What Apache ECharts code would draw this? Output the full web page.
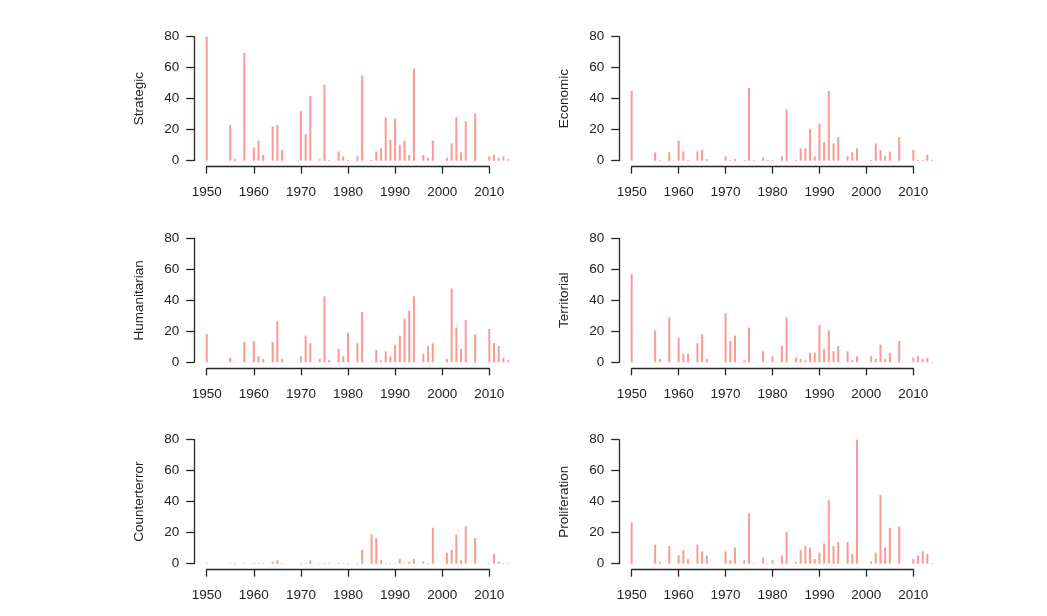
<!DOCTYPE html>
<html>
<head>
<meta charset="utf-8">
<script src="https://cdn.jsdelivr.net/npm/echarts@6/dist/echarts.min.js"></script>
<style>
  html, body { margin: 0; padding: 0; background: #ffffff; }
  #chart { width: 1047px; height: 616px; }
</style>
</head>
<body>
<div id="chart"></div>
<script>
// ---- data ----
const years = [1950,1955,1956,1958,1960,1961,1962,1964,1965,1966,1970,1971,1972,1974,1975,1976,1978,1979,1980,1982,1983,1985,1986,1987,1988,1989,1990,1991,1992,1993,1994,1996,1997,1998,2001,2002,2003,2004,2005,2007,2010,2011,2012,2013,2014];
const panelNames = ["Strategic","Economic","Humanitarian","Territorial","Counterterror","Proliferation"];
const strategic = [80,23,1,69.5,8.6,13,3.7,22,23,7, 32,17,41.7,1,49,0.5,6,2.8,0.5,2.8, 55,0.5,6,8,28,13.5,27.3,10.3,13,3.7, 59.4,3.7,2,13,2,11.2,28,5.4,25.4,30.5, 2.8,3.7,2,2.8,1];
const economic = [45,5.4,0.5,5.4,12.9,6,0.5,6,7,1, 2.8,0.5,1,0.5,46.9,0.5,2,0.5,0.5,2.8, 33,0.5,8,8,20.4,2.8,23.9,12,45,11.2, 15.3,2.8,5.4,8,0.5,11.2,7,2.8,6,15.3, 7,0.5,0.5,3.7,0.5];
const humanitarian = [18.3,3,0.4,13.1,13.8,3.9,2.2,13.1,26.5,2.2, 3.9,17.2,12.3,2.2,42.6,1.3,8.8,3.9,18.9,12.3, 32.5,0.4,8,1.3,7.1,3.9,11.4,17.2,28.2,33.3, 42.6,5.4,10.5,12.3,2.2,47.5,22.4,8.8,27.3,18.1, 21.5,12.3,10.5,3,1.3];
const territorial = [57,20.6,2.2,29,15.7,5.4,5.4,12.3,18.1,2.2, 31.6,13.8,17.2,1.3,22.4,0.4,7.1,0.4,3.9,10.5, 29,3,2.2,1.3,6.2,6.2,24.1,8.8,20.6,7.1, 10.5,7.1,1.3,3.9,3.9,2.2,11.4,2.2,6.2,13.8, 3,3.9,2.2,3,0.4];
const counterterror = [0.4,0.4,0.4,0.4,0.4,0.4,0.4,1.3,2.2,0.4, 0.4,0.4,2.2,0.4,0.4,0.4,0.4,0.4,0.4,0.4, 9,18.9,16.6,2.2,0.4,0.4,0.4,3,0.4,1.3, 3,1.3,0.4,23.2,7.1,9,18.9,2.2,24.1,16.6, 0.4,6.2,1.3,0.4,0.4];
const proliferation = [26.7,12.3,1.3,11.4,5.4,8.8,3,12.3,8,5.4, 8,2.2,10.5,2.2,32.5,0.4,3.9,0.4,2.2,5.4, 20.6,1.3,8.8,11.4,10.5,3,7.1,13.1,40.9,11.4, 14,14,6.2,80,1.3,7.1,44.3,10.5,23.2,24.1, 3,5.4,8,6.2,0.4];
const xTicks = [1950,1960,1970,1980,1990,2000,2010];
const yTicks = [0,20,40,60,80];

const seriesValues = [strategic, economic, humanitarian, territorial, counterterror, proliferation];

// ---- layout (pixels) ----
const colLeft = [206.7, 631.7];      // x position of 1950
const colWidth60 = [282.6, 281.6];   // 1950..2010 span
const rowTop = [36.7, 238.3, 439.7]; // y position of 80
const plotH = 124;                   // 0..80 span

const FONT = "'Liberation Sans', Arial, sans-serif";
const TXT = '#222222';
const AX = '#262626';
const BAR = '#fb9a94';

const grids = [], xAxes = [], yAxes = [], series = [];
panelNames.forEach((name, i) => {
  const col = i % 2, row = Math.floor(i / 2);
  const left = colLeft[col], top = rowTop[row];
  const w60 = colWidth60[col];
  const ppy = w60 / 60;
  grids.push({ left: left, top: top, width: w60, height: plotH, containLabel: false });
  grids.push({ left: left, top: top, width: ppy * 64, height: plotH, containLabel: false });
  const ga = 2 * i, gd = 2 * i + 1;
  xAxes.push({
    gridIndex: ga, type: 'value', min: xTicks[0], max: xTicks[xTicks.length - 1], interval: 10,
    position: 'bottom', offset: 6,
    axisLine: { show: true, onZero: false, lineStyle: { color: AX, width: 1.3 } },
    axisTick: { show: true, length: 7, lineStyle: { color: AX, width: 1.3 } },
    axisLabel: { show: true, margin: 19, color: TXT, fontFamily: FONT, fontSize: 13.5,
                 formatter: v => String(v) },
    splitLine: { show: false }
  });
  xAxes.push({ gridIndex: gd, type: 'value', min: 1950, max: 2014, show: false });
  yAxes.push({
    gridIndex: ga, type: 'value', min: yTicks[0], max: yTicks[yTicks.length - 1], interval: 20,
    position: 'left', offset: 12.5,
    name: name, nameLocation: 'middle', nameGap: 48, nameRotate: 90,
    nameTextStyle: { color: TXT, fontFamily: FONT, fontSize: 13.5 },
    axisLine: { show: true, onZero: false, lineStyle: { color: AX, width: 1.3 } },
    axisTick: { show: true, length: 8, lineStyle: { color: AX, width: 1.3 } },
    axisLabel: { show: true, margin: 15, color: TXT, fontFamily: FONT, fontSize: 13.5 },
    splitLine: { show: false }
  });
  yAxes.push({ gridIndex: gd, type: 'value', min: 0, max: 80, show: false });
  series.push({
    type: 'bar', xAxisIndex: gd, yAxisIndex: gd,
    data: years.map((y, k) => [y, seriesValues[i][k]]),
    barWidth: 2, clip: false, silent: true,
    itemStyle: { color: BAR }
  });
});

const chart = echarts.init(document.getElementById('chart'), null, { renderer: 'canvas' });
chart.setOption({
  backgroundColor: '#ffffff',
  animation: false,
  grid: grids, xAxis: xAxes, yAxis: yAxes, series: series
});
</script>
</body>
</html>
